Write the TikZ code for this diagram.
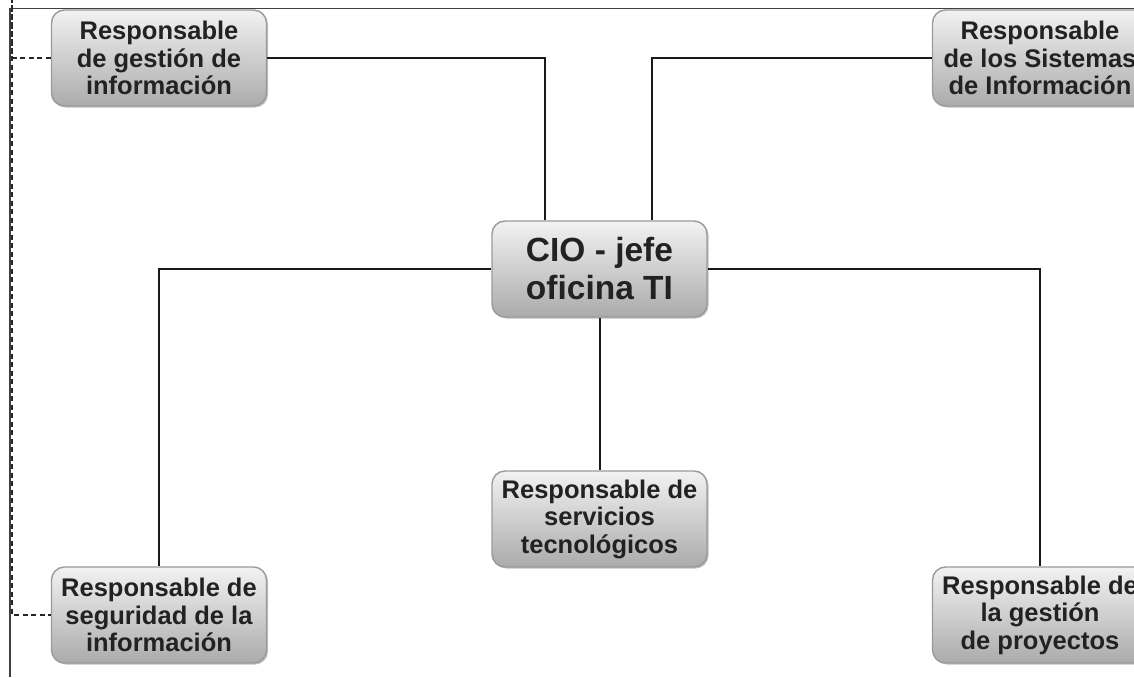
\documentclass[tikz,border=0pt]{standalone}
\usepackage{fontspec}
\setmainfont{Liberation Sans}
\usetikzlibrary{shadows}
\definecolor{boxtop}{HTML}{F2F2F2}
\definecolor{boxbot}{HTML}{ABABAB}
\definecolor{boxline}{HTML}{9A9A9A}
\definecolor{txt}{HTML}{222222}
\tikzset{
  rolebox/.style={draw=boxline, line width=1.4pt, rounded corners=13pt,
    top color=boxtop, bottom color=boxbot,
    minimum width=215pt, minimum height=96pt, inner sep=2pt,
    align=center, text=txt,
    font=\bfseries\fontsize{25.5}{27.5}\selectfont,
    drop shadow={shadow xshift=1.5pt, shadow yshift=-1.5pt, opacity=0.25, fill=black}},
  ciobox/.style={rolebox, font=\bfseries\fontsize{33.5}{38}\selectfont},
  link/.style={draw=black!90, line width=2pt},
  dashlink/.style={draw=black!85, line width=1.6pt, dash pattern=on 5pt off 3.5pt},
  frame/.style={draw=black!75, line width=1.8pt}
}
\begin{document}
\begin{tikzpicture}[x=1pt,y=-1pt]
\useasboundingbox (0,0) rectangle (1134,677);
\clip (0,0) rectangle (1134,677);
\fill[white] (0,0) rectangle (1134,677);
% frame
\coordinate (f0) at (10,8.5);
\coordinate (f1) at (1134,8.5);
\coordinate (f2) at (10,677);
\draw[frame] (f1) -- (f0) -- (f2);
% nodes
\node[rolebox] (tl) at (159,58) {Responsable\\de gestión de\\información};
\node[rolebox] (tr) at (1040,58) {Responsable\\de los Sistemas\\de Información};
\node[ciobox] (cio) at (599.5,269) {CIO - jefe\\oficina TI};
\node[rolebox] (mid) at (599.5,519) {Responsable de\\servicios\\tecnológicos};
\node[rolebox] (bl) at (159,615) {Responsable de\\seguridad de la\\información};
\node[rolebox] (br) at (1040,615) {Responsable de\\la gestión\\de proyectos};
% connectors
\coordinate (ux1) at (545,0);
\coordinate (ux2) at (652,0);
\coordinate (dx) at (12,0);
\draw[link] (ux1 |- cio.north) |- (tl.east);
\draw[link] (ux2 |- cio.north) |- (tr.west);
\draw[link] (cio.west) -| (bl.north);
\draw[link] (cio.east) -| (br.north);
\draw[link] (cio.south) -- (mid.north);
\draw[dashlink] (tl.west) -| (dx) |- (bl.west);
\end{tikzpicture}
\end{document}
